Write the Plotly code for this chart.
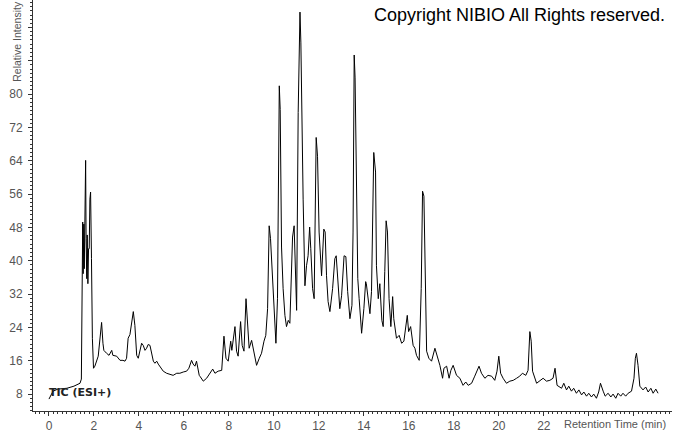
import plotly.graph_objects as go

# Retention time (min) and relative intensity
time_min = [
    0.00, 0.18, 0.40, 0.80, 1.11, 1.38, 1.44, 1.48, 1.50, 1.52, 1.55, 1.57, 1.60, 1.63, 1.65,
    1.68, 1.70, 1.73, 1.76, 1.79, 1.82, 1.85, 1.89, 1.93, 1.98, 2.04, 2.19, 2.29, 2.34, 2.40,
    2.44, 2.56, 2.67, 2.79, 2.84, 3.01, 3.16, 3.29, 3.38, 3.45, 3.52, 3.60, 3.68, 3.75, 3.82,
    3.90, 3.97, 4.04, 4.12, 4.19, 4.27, 4.34, 4.41, 4.49, 4.56, 4.64, 4.71, 4.79, 4.86, 4.93,
    5.08, 5.23, 5.38, 5.52, 5.68, 5.82, 5.97, 6.12, 6.22, 6.34, 6.41, 6.49, 6.56, 6.62, 6.68,
    6.71, 6.86, 7.01, 7.16, 7.28, 7.38, 7.52, 7.68, 7.78, 7.87, 7.97, 8.08, 8.13, 8.27, 8.34,
    8.41, 8.52, 8.59, 8.67, 8.76, 8.83, 8.90, 9.01, 9.11, 9.23, 9.35, 9.45, 9.56, 9.64, 9.72,
    9.79, 9.85, 9.91, 10.00, 10.09, 10.16, 10.20, 10.24, 10.28, 10.34, 10.41, 10.49, 10.56, 10.64, 10.71,
    10.78, 10.83, 10.90, 10.96, 11.01, 11.08, 11.12, 11.16, 11.20, 11.24, 11.30, 11.38, 11.45, 11.52, 11.59,
    11.64, 11.72, 11.79, 11.84, 11.88, 11.94, 12.01, 12.12, 12.18, 12.22, 12.28, 12.34, 12.41, 12.49, 12.61,
    12.71, 12.77, 12.86, 12.93, 13.01, 13.07, 13.12, 13.20, 13.28, 13.38, 13.47, 13.52, 13.57, 13.61, 13.68,
    13.73, 13.79, 13.90, 14.00, 14.08, 14.11, 14.19, 14.27, 14.34, 14.40, 14.44, 14.52, 14.56, 14.64, 14.71,
    14.80, 14.86, 14.93, 14.99, 15.05, 15.12, 15.20, 15.28, 15.33, 15.45, 15.57, 15.68, 15.78, 15.90, 15.93,
    15.99, 16.08, 16.19, 16.27, 16.34, 16.46, 16.55, 16.61, 16.67, 16.72, 16.79, 16.89, 17.01, 17.16, 17.26,
    17.38, 17.50, 17.56, 17.68, 17.79, 17.87, 17.97, 18.12, 18.27, 18.41, 18.53, 18.64, 18.79, 18.93, 19.12,
    19.23, 19.38, 19.52, 19.68, 19.82, 19.92, 20.00, 20.08, 20.19, 20.34, 20.49, 20.64, 20.79, 20.93, 21.05,
    21.20, 21.30, 21.35, 21.38, 21.44, 21.50, 21.68, 21.82, 21.97, 22.12, 22.27, 22.41, 22.50, 22.59, 22.79,
    22.89, 23.01, 23.11, 23.23, 23.33, 23.45, 23.56, 23.68, 23.78, 23.90, 24.00, 24.12, 24.22, 24.34, 24.44,
    24.52, 24.64, 24.73, 24.86, 24.98, 25.08, 25.20, 25.30, 25.42, 25.52, 25.64, 25.75, 25.90, 26.01, 26.07,
    26.12, 26.16, 26.19, 26.27, 26.41, 26.53, 26.64, 26.76, 26.86, 26.98, 27.08,
]
intensity = [
    6.8, 8.7, 9.2, 9.4, 9.9, 10.6, 11.6, 30.9, 49.3, 36.9, 48.8, 38.1, 47.6, 64.1, 45.3,
    35.7, 46.2, 34.5, 42.9, 42.9, 54.8, 56.5, 40.5, 21.4, 14.2, 14.7, 17.1, 23.8, 25.2, 20.2,
    18.5, 17.8, 17.3, 18.5, 17.3, 17.1, 16.1, 16.1, 15.9, 16.6, 21.4, 22.3, 25.4, 27.8, 24.5,
    17.3, 16.6, 18.5, 20.2, 19.7, 18.5, 19.0, 19.9, 19.7, 17.8, 15.9, 15.4, 15.9, 15.2, 14.7,
    13.5, 13.0, 12.8, 12.5, 13.0, 13.0, 13.3, 13.5, 14.2, 16.1, 15.2, 14.7, 15.9, 13.7, 12.5,
    12.3, 11.1, 11.8, 13.0, 14.0, 13.0, 13.5, 13.7, 21.9, 16.6, 15.9, 20.7, 18.5, 24.2, 18.3,
    17.1, 25.4, 19.7, 18.3, 30.9, 24.5, 19.0, 20.9, 18.5, 14.9, 16.6, 17.8, 20.7, 22.1, 28.5,
    48.4, 45.3, 38.8, 26.9, 20.2, 30.9, 66.7, 82.0, 76.3, 43.3, 33.3, 26.9, 24.2, 25.7, 25.0,
    35.7, 45.7, 48.4, 38.1, 28.1, 75.6, 91.8, 99.7, 92.3, 74.6, 54.8, 34.0, 38.8, 41.2, 48.1,
    42.9, 33.3, 30.9, 50.0, 69.6, 65.1, 46.9, 36.4, 44.1, 47.6, 46.9, 36.4, 30.2, 27.8, 33.3,
    40.5, 41.2, 32.6, 28.5, 31.6, 38.1, 41.2, 41.0, 32.6, 26.1, 29.3, 46.9, 89.4, 83.9, 46.9,
    35.7, 30.9, 22.6, 28.5, 35.0, 34.5, 30.9, 27.3, 32.6, 54.8, 66.0, 61.3, 38.8, 30.9, 34.5,
    25.7, 24.2, 37.4, 49.6, 46.9, 30.9, 24.2, 31.4, 26.1, 21.4, 22.1, 20.2, 20.7, 26.1, 26.9,
    23.0, 24.2, 19.7, 19.0, 17.3, 16.1, 33.3, 56.7, 55.5, 36.4, 18.3, 16.6, 15.9, 19.0, 17.1,
    14.9, 11.8, 14.2, 14.7, 11.8, 13.7, 14.9, 12.5, 11.8, 10.1, 10.9, 10.1, 10.6, 12.3, 14.7,
    13.0, 11.8, 12.5, 12.3, 11.3, 13.5, 17.1, 13.0, 11.8, 10.6, 11.1, 11.3, 11.8, 12.3, 13.0,
    12.5, 13.7, 19.0, 23.0, 20.7, 13.5, 10.6, 11.1, 11.8, 11.1, 11.3, 11.8, 14.2, 10.1, 9.4,
    10.6, 9.0, 9.9, 8.7, 9.4, 8.2, 9.0, 7.8, 8.5, 7.5, 8.2, 7.3, 8.0, 7.0, 8.5,
    10.6, 8.7, 7.5, 8.2, 7.3, 8.0, 7.0, 8.2, 7.5, 8.2, 7.5, 8.2, 8.7, 11.8, 16.6,
    17.8, 16.6, 14.9, 9.9, 9.0, 9.7, 8.5, 9.4, 8.2, 9.2, 8.2,
]

x_tick_vals = [0, 2, 4, 6, 8, 10, 12, 14, 16, 18, 20, 22, 24, 26]
x_tick_text = ["0", "2", "4", "6", "8", "10", "12", "14", "16", "18", "20", "22", "", ""]
y_tick_vals = [8, 16, 24, 32, 40, 48, 56, 64, 72, 80, 88, 96]
y_tick_text = ["8", "16", "24", "32", "40", "48", "56", "64", "72", "80", "", ""]

W, H = 673, 433
L, R, T, B = 33, 1, 0, 20
pw, ph = W - L - R, H - T - B

fig = go.Figure()
fig.add_trace(go.Scatter(
    x=time_min, y=intensity, mode="lines",
    line=dict(color="black", width=1), hoverinfo="x+y", showlegend=False,
))

axis_font = dict(family="Liberation Sans, Arial, sans-serif", size=12, color="#555555")

fig.update_layout(
    width=W, height=H,
    margin=dict(l=L, r=R, t=T, b=B),
    paper_bgcolor="white", plot_bgcolor="white",
    xaxis=dict(
        range=[-0.71, 27.7], showgrid=False, zeroline=False,
        showline=True, linecolor="#333333", linewidth=1,
        tickmode="array", tickvals=x_tick_vals, ticktext=x_tick_text,
        ticks="outside", ticklen=4, tickcolor="#333333", tickwidth=1,
        minor=dict(ticks="outside", ticklen=2, tickcolor="#333333", dtick=0.2, tick0=0, showgrid=False),
        tickfont=axis_font,
    ),
    yaxis=dict(
        range=[3.94, 102.6], showgrid=False, zeroline=False,
        showline=True, linecolor="#333333", linewidth=1,
        tickmode="array", tickvals=y_tick_vals, ticktext=y_tick_text,
        ticks="outside", ticklen=4, tickcolor="#333333", tickwidth=1,
        minor=dict(ticks="outside", ticklen=2, tickcolor="#333333", dtick=1, tick0=0, showgrid=False),
        tickfont=axis_font, ticklabelstandoff=3,
    ),
    annotations=[
        dict(text="Copyright NIBIO All Rights reserved.", xref="paper", yref="paper",
             x=(667 - L) / pw, y=1 - (15 - T) / ph, xanchor="right", yanchor="middle",
             showarrow=False, font=dict(family="Liberation Sans, Arial, sans-serif", size=18, color="black")),
        dict(text="Relative Intensity", xref="paper", yref="paper",
             x=(17 - L) / pw, y=1 - (42 - T) / ph, xanchor="center", yanchor="middle", textangle=-90,
             showarrow=False, font=dict(family="Liberation Sans, Arial, sans-serif", size=10.5, color="#555555")),
        dict(text="Retention Time (min)", xref="paper", yref="paper",
             x=(668 - L) / pw, y=-(426 - (T + ph)) / ph, xanchor="right", yanchor="middle",
             showarrow=False, font=dict(family="Liberation Sans, Arial, sans-serif", size=11, color="#555555")),
        dict(text="<b>TIC (ESI+)</b>", xref="paper", yref="paper",
             x=(47 - L) / pw, y=1 - (394 - T) / ph, xanchor="left", yanchor="middle",
             showarrow=False, font=dict(family="DejaVu Sans, sans-serif", size=11, color="#222222")),
    ],
)

fig.write_html("out.html", post_script="document.body.style.margin='0';",
               config={"displayModeBar": False})
